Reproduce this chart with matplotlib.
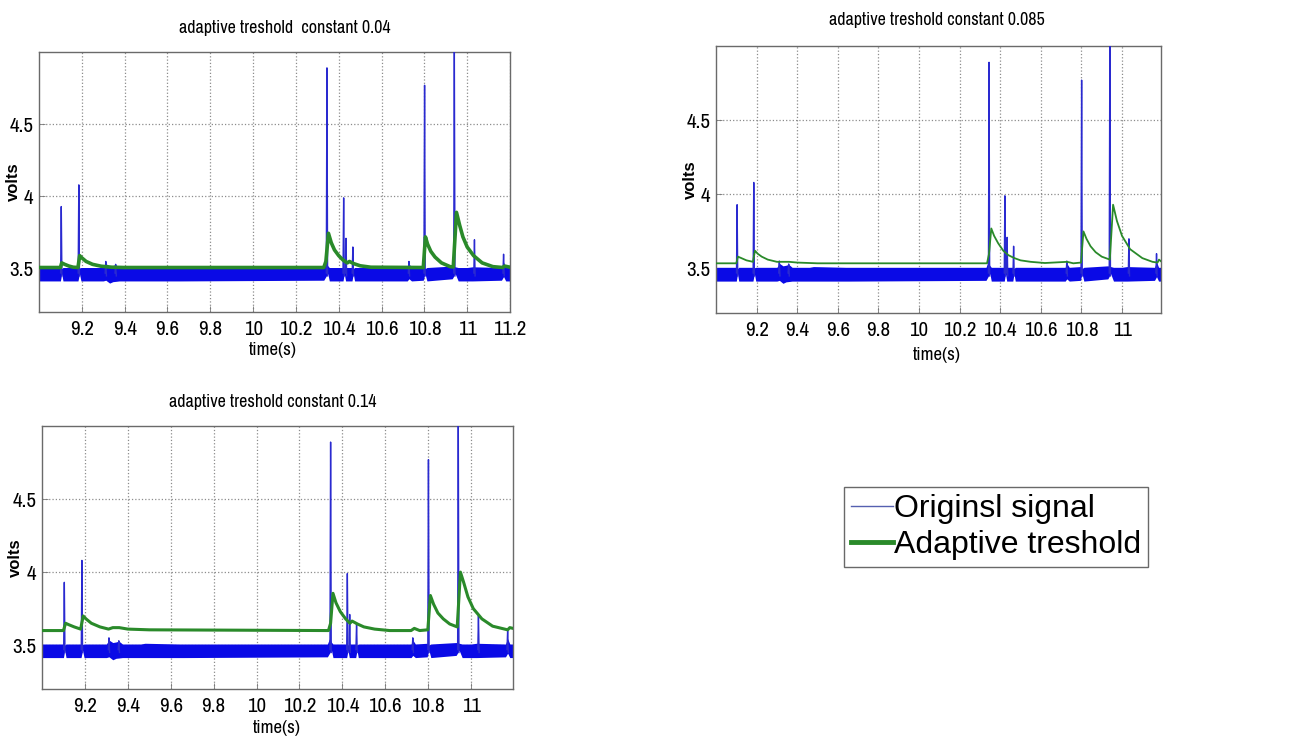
import matplotlib
matplotlib.use("Agg")
import matplotlib.pyplot as plt
from matplotlib.lines import Line2D
from matplotlib import font_manager as fm

# ---------------- data ----------------
titles = ["adaptive treshold  constant 0.04",
          "adaptive treshold constant 0.085",
          "adaptive treshold constant 0.14"]
xticks = [9.2, 9.4, 9.6, 9.8, 10.0, 10.2, 10.4, 10.6, 10.8, 11.0, 11.2]
xticklabels = ["9.2", "9.4", "9.6", "9.8", "10", "10.2", "10.4", "10.6", "10.8", "11", "11.2"]
yticks = [3.5, 4.0, 4.5]
yticklabels = ["3.5", "4", "4.5"]
legend_labels = ["Originsl signal", "Adaptive treshold"]

# spikes of the original signal (time, peak volts)
spike_t = [9.104, 9.186, 9.312, 9.358, 10.345, 10.423, 10.434, 10.466, 10.728, 10.801, 10.940, 11.034, 11.170]
spike_v = [3.93, 4.08, 3.55, 3.53, 4.89, 3.99, 3.71, 3.65, 3.55, 4.77, 5.00, 3.70, 3.60]

# noise band of the original signal (envelope)
band_t = [9.000, 9.100, 9.106, 9.112, 9.182, 9.189, 9.196, 9.300, 9.312, 9.330, 9.345,
          9.358, 9.375, 9.460, 9.480, 9.640, 9.660, 10.330, 10.340, 10.349, 10.356, 10.420,
          10.426, 10.432, 10.462, 10.468, 10.474, 10.720, 10.728, 10.740, 10.795, 10.803,
          10.812, 10.930, 10.944, 10.958, 11.000, 11.025, 11.160, 11.170, 11.180, 11.200]
band_lo = [3.415, 3.415, 3.465, 3.415, 3.415, 3.465, 3.415, 3.415, 3.420, 3.400, 3.410,
           3.412, 3.415, 3.415, 3.415, 3.415, 3.415, 3.420, 3.445, 3.465, 3.415, 3.415,
           3.465, 3.415, 3.415, 3.465, 3.415, 3.415, 3.430, 3.415, 3.420, 3.465,
           3.415, 3.430, 3.465, 3.415, 3.415, 3.415, 3.420, 3.445, 3.415, 3.415]
band_hi = [3.508, 3.508, 3.500, 3.508, 3.508, 3.505, 3.508, 3.508, 3.535, 3.518, 3.522,
           3.528, 3.508, 3.508, 3.513, 3.508, 3.508, 3.508, 3.545, 3.520, 3.508, 3.508,
           3.500, 3.508, 3.508, 3.500, 3.508, 3.508, 3.535, 3.508, 3.513, 3.500,
           3.508, 3.518, 3.513, 3.508, 3.508, 3.513, 3.508, 3.545, 3.508, 3.508]

# adaptive threshold, constant 0.04
thr1_t = [9.000, 9.100, 9.106, 9.120, 9.140, 9.160, 9.182, 9.190, 9.200, 9.220, 9.250,
          9.290, 9.340, 9.400, 10.330, 10.340, 10.352, 10.365, 10.380, 10.400, 10.420,
          10.440, 10.450, 10.470, 10.500, 10.550, 10.795, 10.805, 10.815, 10.830, 10.850,
          10.880, 10.920, 10.935, 10.950, 10.965, 10.980, 11.000, 11.030, 11.070, 11.120,
          11.165, 11.175, 11.200]
thr1_v = [3.508, 3.508, 3.540, 3.530, 3.518, 3.510, 3.508, 3.590, 3.575, 3.550, 3.530,
          3.517, 3.510, 3.508, 3.508, 3.550, 3.745, 3.680, 3.630, 3.590, 3.560,
          3.540, 3.550, 3.535, 3.520, 3.510, 3.508, 3.720, 3.670, 3.620, 3.580,
          3.540, 3.514, 3.512, 3.890, 3.800, 3.720, 3.650, 3.590, 3.540, 3.514,
          3.508, 3.518, 3.510]

# adaptive threshold, constant 0.085
thr2_t = [9.000, 9.100, 9.108, 9.125, 9.150, 9.182, 9.192, 9.205, 9.225, 9.255, 9.300,
          9.330, 9.360, 9.400, 9.500, 10.335, 10.345, 10.356, 10.370, 10.390, 10.415,
          10.440, 10.470, 10.500, 10.550, 10.620, 10.730, 10.760, 10.798, 10.810, 10.825,
          10.845, 10.870, 10.900, 10.940, 10.956, 10.975, 11.000, 11.040, 11.100, 11.150,
          11.175, 11.182, 11.195]
thr2_v = [3.535, 3.535, 3.580, 3.570, 3.555, 3.545, 3.620, 3.600, 3.580, 3.560, 3.545,
          3.545, 3.545, 3.540, 3.535, 3.535, 3.600, 3.770, 3.720, 3.670, 3.620,
          3.590, 3.570, 3.555, 3.545, 3.537, 3.545, 3.535, 3.540, 3.750, 3.700,
          3.650, 3.610, 3.580, 3.560, 3.930, 3.820, 3.720, 3.630, 3.570, 3.545,
          3.540, 3.560, 3.545]

# adaptive threshold, constant 0.14
thr3_t = [9.000, 9.100, 9.110, 9.125, 9.150, 9.180, 9.192, 9.205, 9.230, 9.270, 9.310,
          9.330, 9.360, 9.400, 9.500, 10.335, 10.345, 10.356, 10.370, 10.390, 10.415,
          10.435, 10.445, 10.470, 10.500, 10.550, 10.620, 10.720, 10.735, 10.760, 10.798,
          10.810, 10.825, 10.845, 10.870, 10.900, 10.935, 10.950, 10.965, 10.985, 11.010,
          11.050, 11.100, 11.170, 11.180, 11.195]
thr3_v = [3.600, 3.600, 3.650, 3.640, 3.625, 3.610, 3.700, 3.680, 3.650, 3.625, 3.610,
          3.620, 3.620, 3.610, 3.605, 3.600, 3.650, 3.855, 3.790, 3.730, 3.680,
          3.650, 3.665, 3.645, 3.625, 3.610, 3.600, 3.600, 3.615, 3.600, 3.605,
          3.840, 3.780, 3.720, 3.680, 3.645, 3.625, 4.000, 3.930, 3.830, 3.750,
          3.680, 3.630, 3.605, 3.620, 3.615]

thresholds = [(thr1_t, thr1_v), (thr2_t, thr2_v), (thr3_t, thr3_v)]


# ---------------- fonts ----------------
def find_narrow_font():
    prefs = []
    for f in fm.fontManager.ttflist:
        p = f.fname.lower()
        n = f.name.lower()
        if any(k in p for k in ("bold", "italic", "oblique", "light", "thin", "black", "medium")):
            continue
        if f.style != "normal":
            continue
        if "mono" in p or ("serif" in n and "sans" not in n):
            continue
        score = None
        if "liberation" in p and "narrow" in p:
            score = 0
        elif "narrow" in p or "narrow" in n:
            score = 1
        elif "condensed" in p and "semi" not in p and "extra" not in p:
            score = 2
        elif str(f.stretch) in ("condensed", "semi-condensed"):
            score = 3
        if score is not None:
            prefs.append((score, f.fname))
    if prefs:
        prefs.sort()
        return prefs[0][1]
    return None


narrow_path = find_narrow_font()


def narrow_fp(size):
    if narrow_path:
        return fm.FontProperties(fname=narrow_path, size=size)
    return fm.FontProperties(family=["Liberation Sans", "DejaVu Sans"], size=size * 0.85)


SANS = ["Liberation Sans", "DejaVu Sans"]

# ---------------- style ----------------
W, H = 1296, 738
BAND_C = "#0a0ae6"
SPIKE_C = "#2a2ad0"
GREEN = "#2a8a2a"
thr_lw = [2.6, 1.3, 2.2]

# axes boxes in pixels: left, top, right, bottom
boxes = [(39, 52, 510, 312), (716, 46, 1161, 313), (42, 426, 513, 689)]
xlims = [(9.0, 11.2), (9.0, 11.192), (9.0, 11.195)]
nticks = [11, 10, 10]
xlabel_pos = [(273, 350), (937, 355), (277, 728)]
ylabel_x = [13, 690, 15]
title_pos = [(285, 28), (937, 20), (273, 402)]

fig = plt.figure(figsize=(W / 100, H / 100), dpi=100)
for i in range(3):
    l, t, r, b = boxes[i]
    ax = fig.add_axes([l / W, 1 - b / H, (r - l) / W, (b - t) / H])
    ax.fill_between(band_t, band_lo, band_hi, color=BAND_C, lw=0, zorder=2)
    for st, sv in zip(spike_t, spike_v):
        ax.plot([st - 0.003, st, st + 0.003], [3.47, sv, 3.45], color=SPIKE_C, lw=1.0, zorder=3)
    tt, tv = thresholds[i]
    ax.plot(tt, tv, color=GREEN, lw=thr_lw[i], zorder=4)
    ax.set_xlim(*xlims[i])
    ax.set_ylim(3.2, 5.0)
    ax.set_xticks(xticks[:nticks[i]])
    ax.set_xticklabels(xticklabels[:nticks[i]], fontproperties=narrow_fp(15))
    ax.set_yticks(yticks)
    ax.set_yticklabels(yticklabels, fontproperties=narrow_fp(15))
    ax.tick_params(direction="in", length=4, width=0.6, color="#777777")
    ax.tick_params(axis="x", pad=6)
    ax.tick_params(axis="y", pad=4)
    ax.grid(True, linestyle=":", color="#8c8c8c", lw=0.9, zorder=1)
    ax.set_axisbelow(True)
    for s in ax.spines.values():
        s.set_color("#6a6a6a")
        s.set_linewidth(1.0)
    tx, ty = title_pos[i]
    fig.text(tx / W, 1 - ty / H, titles[i], fontproperties=narrow_fp(13),
             ha="center", va="center")
    xl, yl = xlabel_pos[i]
    ax.set_xlabel("time(s)", fontproperties=narrow_fp(13.5))
    ax.xaxis.set_label_coords((xl - l) / (r - l), -(yl - b) / (b - t), transform=ax.transAxes)
    ax.xaxis.label.set_va("center")
    ax.set_ylabel("volts", family=SANS, fontsize=12, fontweight="bold")
    ax.yaxis.set_label_coords(-(l - ylabel_x[i]) / (r - l), 0.5, transform=ax.transAxes)
    ax.yaxis.label.set_va("center")

handles = [Line2D([], [], color="#5560b0", lw=1.0),
           Line2D([], [], color=GREEN, lw=3.5)]
leg = fig.legend(handles, legend_labels, loc="upper left",
                 bbox_to_anchor=(844 / W, 1 - 487 / H),
                 prop={"family": SANS, "size": 23},
                 handlelength=1.3, handletextpad=0.05, labelspacing=0.2,
                 borderpad=0.22, borderaxespad=0, fancybox=False, frameon=True)
leg.get_frame().set_edgecolor("#444444")
leg.get_frame().set_linewidth(1.0)

fig.savefig("out.png", dpi=100)
